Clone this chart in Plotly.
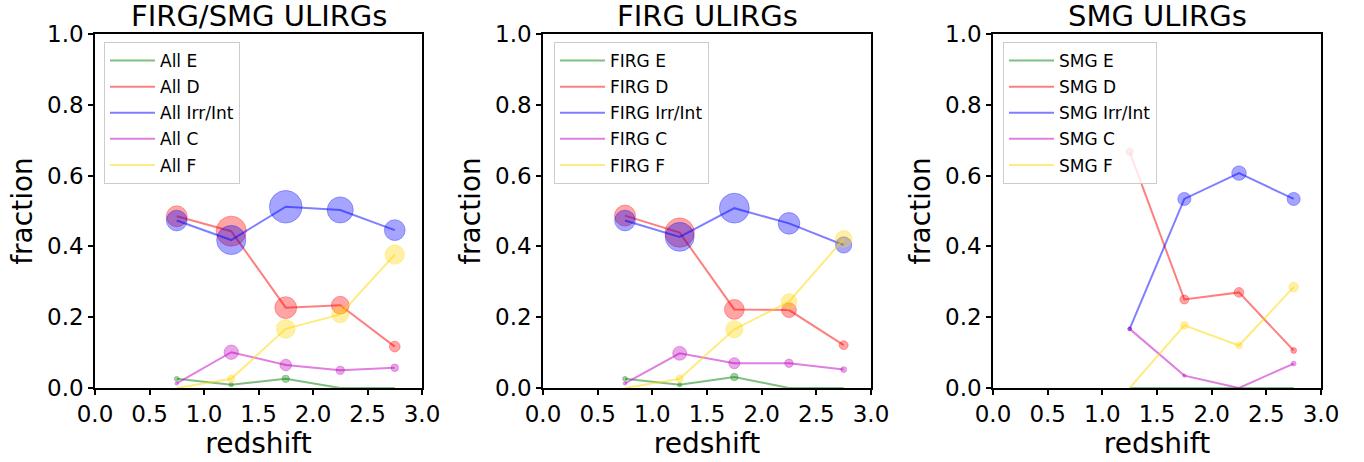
import plotly.graph_objects as go

redshift = [0.75, 1.25, 1.75, 2.25, 2.75]
classes = ["E", "D", "Irr/Int", "C", "F"]

# fractions per morphological class, per redshift bin
all_E = [0.026, 0.009, 0.026, 0.0, 0.0]
all_D = [0.485, 0.443, 0.227, 0.234, 0.117]
all_Irr = [0.473, 0.418, 0.512, 0.503, 0.446]
all_C = [0.013, 0.101, 0.065, 0.050, 0.057]
all_F = [0.0, 0.026, 0.167, 0.208, 0.377]
n_all = [68, 153, 156, 101, 73]

firg_E = [0.026, 0.009, 0.031, 0.0, 0.0]
firg_D = [0.487, 0.439, 0.222, 0.220, 0.121]
firg_Irr = [0.473, 0.427, 0.508, 0.465, 0.404]
firg_C = [0.013, 0.098, 0.070, 0.070, 0.052]
firg_F = [0.0, 0.026, 0.166, 0.244, 0.421]
n_firg = [68, 147, 132, 75, 49]

smg_E = [None, 0.0, 0.0, 0.0, 0.0]
smg_D = [None, 0.667, 0.250, 0.270, 0.106]
smg_Irr = [None, 0.167, 0.534, 0.607, 0.534]
smg_C = [None, 0.167, 0.035, 0.0, 0.069]
smg_F = [None, 0.0, 0.177, 0.120, 0.285]
n_smg = [0, 6, 24, 26, 24]

panels = [
    ("FIRG/SMG ULIRGs", "All", [all_E, all_D, all_Irr, all_C, all_F], n_all),
    ("FIRG ULIRGs", "FIRG", [firg_E, firg_D, firg_Irr, firg_C, firg_F], n_firg),
    ("SMG ULIRGs", "SMG", [smg_E, smg_D, smg_Irr, smg_C, smg_F], n_smg),
]

colors = [(0, 128, 0), (255, 0, 0), (0, 0, 255), (191, 0, 191), (255, 215, 0)]

W, H = 1364, 462
xdoms = [(95, 422), (543, 871), (993, 1321)]
ytop, ybot = 34, 388
legend_left = [104, 554, 1003]
legend_top = 42
FONT = "DejaVu Sans"
AREA_K = 13.3

fig = go.Figure()

def rgba(c, a):
    return f"rgba({c[0]},{c[1]},{c[2]},{a})"

for p, (title, prefix, series, counts) in enumerate(panels):
    xa = "x" if p == 0 else f"x{p+1}"
    ya = "y" if p == 0 else f"y{p+1}"
    leg = "legend" if p == 0 else f"legend{p+1}"
    for k, (cls, vals) in enumerate(zip(classes, series)):
        col = colors[k]
        fig.add_trace(go.Scatter(
            x=redshift, y=vals, mode="lines", name=f"{prefix} {cls}",
            line=dict(color=rgba(col, 0.5), width=2),
            xaxis=xa, yaxis=ya, legend=leg, legendgroup=f"{p}{k}",
            hoverinfo="skip"))
        sizes = [0 if v is None else (AREA_K * v * n) ** 0.5 for v, n in zip(vals, counts)]
        fig.add_trace(go.Scatter(
            x=redshift, y=vals, mode="markers", showlegend=False,
            marker=dict(size=sizes, color=rgba(col, 0.5),
                        line=dict(color=rgba(col, 0.5), width=1)),
            xaxis=xa, yaxis=ya, hoverinfo="skip"))

layout = dict(
    width=W, height=H, margin=dict(l=0, r=0, t=0, b=0, autoexpand=False),
    paper_bgcolor="white", plot_bgcolor="white",
    font=dict(family=FONT, color="black"),
    showlegend=True, annotations=[],
)

axis_common = dict(
    showgrid=False, zeroline=False, showline=True, linecolor="black",
    linewidth=1.5, mirror=True, ticks="outside", ticklen=5, tickwidth=1.5,
    tickcolor="black", tickfont=dict(size=23, family=FONT, color="black"),
    automargin=False,
)

for p, (title, prefix, series, counts) in enumerate(panels):
    sfx = "" if p == 0 else str(p + 1)
    x0, x1 = xdoms[p]
    layout[f"xaxis{sfx}"] = dict(
        axis_common, domain=[x0 / W, x1 / W], range=[0, 3.0],
        tickvals=[0, 0.5, 1, 1.5, 2, 2.5, 3],
        ticktext=["0.0", "0.5", "1.0", "1.5", "2.0", "2.5", "3.0"],
        anchor=f"y{sfx}",
        title=dict(text="redshift", font=dict(size=28, family=FONT, color="black"), standoff=4),
    )
    layout[f"yaxis{sfx}"] = dict(
        axis_common, domain=[(H - ybot) / H, (H - ytop) / H], range=[0, 1.0],
        tickvals=[0, 0.2, 0.4, 0.6, 0.8, 1.0],
        ticktext=["0.0", "0.2", "0.4", "0.6", "0.8", "1.0"],
        anchor=f"x{sfx}",
        title=dict(text="fraction", font=dict(size=28, family=FONT, color="black"), standoff=6),
    )
    layout["legend" if p == 0 else f"legend{p+1}"] = dict(
        x=legend_left[p] / W, y=(H - legend_top) / H, xanchor="left", yanchor="top",
        bgcolor="rgba(255,255,255,0.8)", bordercolor="#cccccc", borderwidth=1,
        font=dict(size=17, family=FONT, color="black"), tracegroupgap=1,
        itemwidth=45,
    )
    layout["annotations"].append(dict(
        text=title, x=(x0 + x1) / 2 / W, y=(H - ytop) / H, xref="paper", yref="paper",
        xanchor="center", yanchor="bottom", showarrow=False, yshift=-1,
        font=dict(size=29, family=FONT, color="black"),
    ))

fig.update_layout(**layout)
fig.write_html("out.html", config={"displayModeBar": False},
               post_script="document.body.style.margin='0';document.body.style.padding='0';")
